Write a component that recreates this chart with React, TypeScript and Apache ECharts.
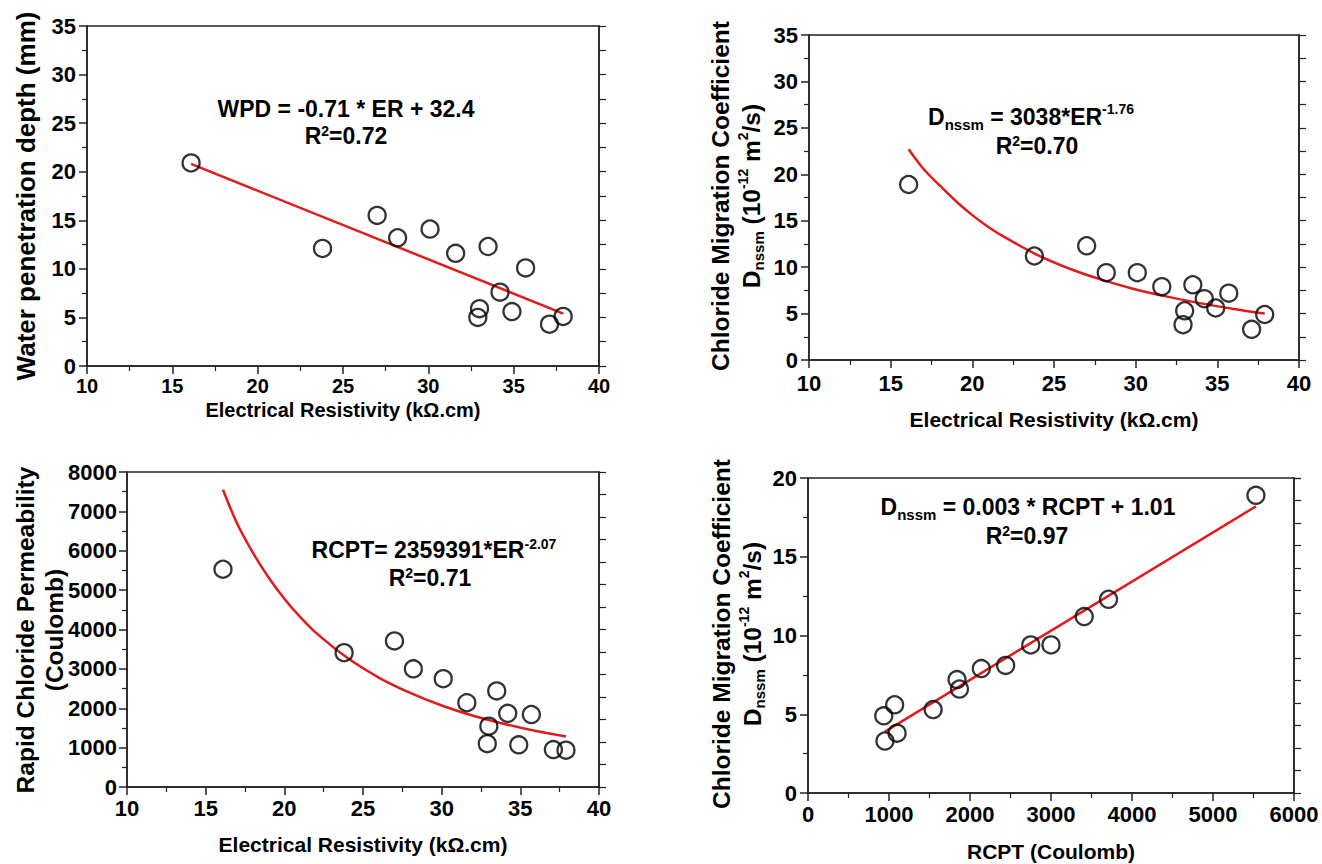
import React, { useEffect, useRef } from "react";
import * as echarts from "echarts";

// ---- data (14 concrete mixes) ----
const er = [16.1, 23.8, 27.0, 28.2, 30.1, 31.6, 33.5, 34.2, 35.7, 33.0, 32.9, 34.9, 37.1, 37.9];
const wpd = [20.9, 12.1, 15.5, 13.2, 14.1, 11.6, 12.3, 7.6, 10.1, 5.9, 5.0, 5.6, 4.3, 5.1];
const dnssm = [18.9, 11.2, 12.3, 9.4, 9.4, 7.9, 8.1, 6.6, 7.2, 5.3, 3.8, 5.6, 3.3, 4.9];
const rcpt = [5530, 3410, 3710, 3000, 2750, 2140, 2440, 1870, 1840, 1545, 1100, 1070, 950, 935];

// ---- fitted trend lines ----
const fit1X = [16.1, 37.9];
const fit1Y = [20.8, 5.4];
const fitErX = [16.1, 17, 18, 19, 20, 21, 22, 24, 26, 28, 30, 32, 34, 36, 37.9];
const fit2Y = [22.7, 20.6, 18.8, 17.1, 15.6, 14.3, 13.2, 11.3, 9.8, 8.6, 7.6, 6.8, 6.1, 5.5, 5.0];
const fit3Y = [7550, 6690, 5950, 5320, 4780, 4320, 3920, 3280, 2780, 2390, 2070, 1810, 1600, 1420, 1285];
const fit4X = [950, 5530];
const fit4Y = [3.9, 18.2];

const FF = '"Liberation Sans", Arial, Helvetica, sans-serif';

const zip = (xs: number[], ys: number[]) => xs.map((x, i) => [x, ys[i]]);

export default function App() {
  const ref = useRef<HTMLDivElement>(null);
  useEffect(() => {
    if (!ref.current) return;
    const chart = echarts.init(ref.current, undefined, { renderer: "svg" });

    const grids = [
      { left: 87, top: 26, width: 512, height: 340 },
      { left: 809, top: 35, width: 490, height: 325 },
      { left: 127, top: 472, width: 472, height: 315 },
      { left: 808, top: 478, width: 486, height: 315 },
    ];
    const xCfg = [
      { min: 10, max: 40, interval: 5, name: "Electrical Resistivity (kΩ.cm)", gap: 34, margin: 10, fs: 20, nfs: 20 },
      { min: 10, max: 40, interval: 5, name: "Electrical Resistivity (kΩ.cm)", gap: 49, margin: 12, fs: 22, nfs: 21 },
      { min: 10, max: 40, interval: 5, name: "Electrical Resistivity (kΩ.cm)", gap: 47, margin: 10, fs: 22, nfs: 21 },
      { min: 0, max: 6000, interval: 1000, name: "RCPT (Coulomb)", gap: 48, margin: 10, fs: 22, nfs: 21 },
    ];
    const yCfg = [
      { max: 35, interval: 5 },
      { max: 35, interval: 5 },
      { max: 8000, interval: 1000 },
      { max: 20, interval: 5 },
    ];
    const axisLine = { show: true, onZero: false, lineStyle: { color: "#222", width: 1.5 } };
    const label = (margin: number, fontSize = 22) => ({
      color: "#000",
      fontSize,
      fontWeight: "bold",
      fontFamily: FF,
      margin,
      lineHeight: fontSize,
      formatter: (v: number) => String(v),
    });

    const xAxis: any[] = xCfg.map((c, i) => ({
      type: "value",
      gridIndex: i,
      min: c.min,
      max: c.max,
      interval: c.interval,
      axisLine,
      axisTick: { show: true, inside: false, length: 8, lineStyle: { color: "#222", width: 1.5 } },
      minorTick: { show: true, splitNumber: 2, length: 5, lineStyle: { color: "#222", width: 1.2 } },
      splitLine: { show: false },
      axisLabel: label(c.margin, c.fs),
      name: c.name,
      nameLocation: "middle",
      nameGap: c.gap,
      nameMoveOverlap: false,
      nameTextStyle: { color: "#000", fontSize: c.nfs, fontWeight: "bold", fontFamily: FF, lineHeight: c.nfs },
    }));
    const yAxis: any[] = [];
    yCfg.forEach((c, i) => {
      yAxis.push({
        type: "value",
        gridIndex: i,
        position: "left",
        min: 0,
        max: c.max,
        interval: c.interval,
        axisLine,
        axisTick: { show: true, inside: false, length: 8, lineStyle: { color: "#222", width: 1.5 } },
        minorTick: { show: true, splitNumber: 2, length: 5, lineStyle: { color: "#222", width: 1.2 } },
        splitLine: { show: false },
        axisLabel: label(i === 2 ? 10 : 11),
      });
      yAxis.push({
        type: "value",
        gridIndex: i,
        position: "right",
        min: 0,
        max: c.max,
        interval: c.max / 14,
        axisLine,
        axisTick: { show: true, inside: false, length: 7, lineStyle: { color: "#222", width: 1.2 } },
        splitLine: { show: false },
        axisLabel: { show: false },
      });
    });

    const scatter = (i: number, data: number[][]) => ({
      type: "scatter",
      xAxisIndex: i,
      yAxisIndex: i * 2,
      data,
      symbol: "circle",
      symbolSize: 17,
      itemStyle: { color: "rgba(255,255,255,0)", borderColor: "#000", borderWidth: 2.3 },
      z: 3,
    });
    const line = (i: number, data: number[][], smooth: boolean) => ({
      type: "line",
      xAxisIndex: i,
      yAxisIndex: i * 2,
      data,
      smooth: smooth ? 0.3 : false,
      showSymbol: false,
      symbol: "none",
      lineStyle: { color: "#e31a1c", width: 2.5 },
      z: 2,
    });

    const mk = (lh: number, fs = 23) => ({
      b: { fontSize: fs, fontWeight: "bold", fontFamily: FF, lineHeight: lh },
      s: { fontSize: 15, fontWeight: "bold", fontFamily: FF, lineHeight: 15, verticalAlign: "bottom" },
      p: { fontSize: 14, fontWeight: "bold", fontFamily: FF, lineHeight: 14, verticalAlign: "top" },
    });
    const txt = (x: number, y: number, text: string, r: any, rot = 0) => ({
      type: "text",
      x,
      y,
      rotation: rot,
      style: {
        text,
        rich: r,
        fill: "#000",
        font: `bold 23px ${FF}`,
        textAlign: "center",
        textVerticalAlign: "middle",
      },
      z: 10,
    });
    const R = Math.PI / 2;
    const yt = mk(30, 24.5);
    const yt1 = mk(30, 26);

    chart.setOption({
      animation: false,
      backgroundColor: "#fff",
      grid: grids.map((g) => ({ ...g, show: true, borderColor: "#222", borderWidth: 1.5, backgroundColor: "transparent" })),
      xAxis,
      yAxis,
      series: [
        line(0, zip(fit1X, fit1Y), false),
        scatter(0, zip(er, wpd)),
        line(1, zip(fitErX, fit2Y), true),
        scatter(1, zip(er, dnssm)),
        line(2, zip(fitErX, fit3Y), true),
        scatter(2, zip(er, rcpt)),
        line(3, zip(fit4X, fit4Y), false),
        scatter(3, zip(rcpt, dnssm)),
      ],
      graphic: [
        txt(26, 196, "{b|Water penetration depth (mm)}", yt1, R),
        txt(720, 196, "{b|Chloride Migration Coefficient}", yt, R),
        txt(751, 196, "{b|D}{s|nssm}{b| (10}{p|-12}{b| m}{p|2}{b|/s)}", yt, R),
        txt(25, 630, "{b|Rapid Chloride Permeability}", yt, R),
        txt(54, 630, "{b|(Coulomb)}", yt, R),
        txt(721, 634, "{b|Chloride Migration Coefficient}", yt, R),
        txt(752, 634, "{b|D}{s|nssm}{b| (10}{p|-12}{b| m}{p|2}{b|/s)}", yt, R),

        txt(346, 109, "{b|WPD = -0.71 * ER + 32.4}", mk(24)),
        txt(346, 136, "{b|R}{p|2}{b|=0.72}", mk(24)),
        txt(1031, 117, "{b|D}{s|nssm}{b| = 3038*ER}{p|-1.76}", mk(30)),
        txt(1037, 146, "{b|R}{p|2}{b|=0.70}", mk(24)),
        txt(434, 550, "{b|RCPT= 2359391*ER}{p|-2.07}", mk(26)),
        txt(430, 578, "{b|R}{p|2}{b|=0.71}", mk(24)),
        txt(1028, 507, "{b|D}{s|nssm}{b| = 0.003 * RCPT + 1.01}", mk(30)),
        txt(1027, 536, "{b|R}{p|2}{b|=0.97}", mk(24)),
      ],
    });
    return () => chart.dispose();
  }, []);
  return (
    <div
      ref={ref}
      style={{ position: "fixed", left: 0, top: 0, width: 1322, height: 864, background: "#fff" }}
    />
  );
}
